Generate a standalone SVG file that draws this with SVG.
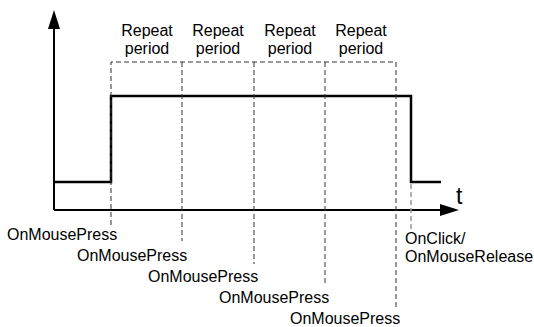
<svg xmlns="http://www.w3.org/2000/svg" width="534" height="327" viewBox="0 0 534 327">
<style>
.t{font-family:"Liberation Sans",Arial,sans-serif;font-size:16px;fill:#000}
.c{text-anchor:middle}
.ax{stroke:#000;stroke-width:2;fill:none}
.sig{stroke:#000;stroke-width:2.5;fill:none}
.d{stroke:#333;stroke-width:1;stroke-dasharray:5,3;fill:none}
.dg{stroke:#999;stroke-width:1.5;stroke-dasharray:5,3;fill:none}
</style>
<rect width="534" height="327" fill="#fff"/>
<g id="connectors">
<line class="ax" x1="54" y1="210" x2="54" y2="26"/>
<polygon points="54,10 48,29 60,29" fill="#000"/>
<line class="ax" x1="54" y1="210" x2="442" y2="210"/>
<polygon points="459,210 440,204 440,216" fill="#000"/>
<polyline class="sig" points="54,182 111,182 111,96 411,96 411,182 441,182"/>
<polyline class="d" points="111,225 111,62 396,62 396,307"/>
<line class="d" x1="182" y1="62" x2="182" y2="241"/>
<line class="d" x1="254" y1="62" x2="254" y2="264"/>
<line class="d" x1="325" y1="62" x2="325" y2="284"/>
<line class="dg" x1="411" y1="184" x2="411" y2="232"/>
</g>
<g id="axis-t"><text class="t" x="456" y="204" style="font-size:23px">t</text></g>
<g id="period1"><text class="t c" x="147" y="36">Repeat</text><text class="t c" x="147" y="54">period</text></g>
<g id="period2"><text class="t c" x="218" y="36">Repeat</text><text class="t c" x="218" y="54">period</text></g>
<g id="period3"><text class="t c" x="290" y="36">Repeat</text><text class="t c" x="290" y="54">period</text></g>
<g id="period4"><text class="t c" x="361" y="36">Repeat</text><text class="t c" x="361" y="54">period</text></g>
<g id="press1"><text class="t" x="7" y="240">OnMousePress</text></g>
<g id="press2"><text class="t" x="77" y="261">OnMousePress</text></g>
<g id="press3"><text class="t" x="148" y="282">OnMousePress</text></g>
<g id="press4"><text class="t" x="219" y="303">OnMousePress</text></g>
<g id="press5"><text class="t" x="290" y="324">OnMousePress</text></g>
<g id="release"><text class="t" x="405" y="244">OnClick/</text><text class="t" x="405" y="262">OnMouseRelease</text></g>
</svg>
